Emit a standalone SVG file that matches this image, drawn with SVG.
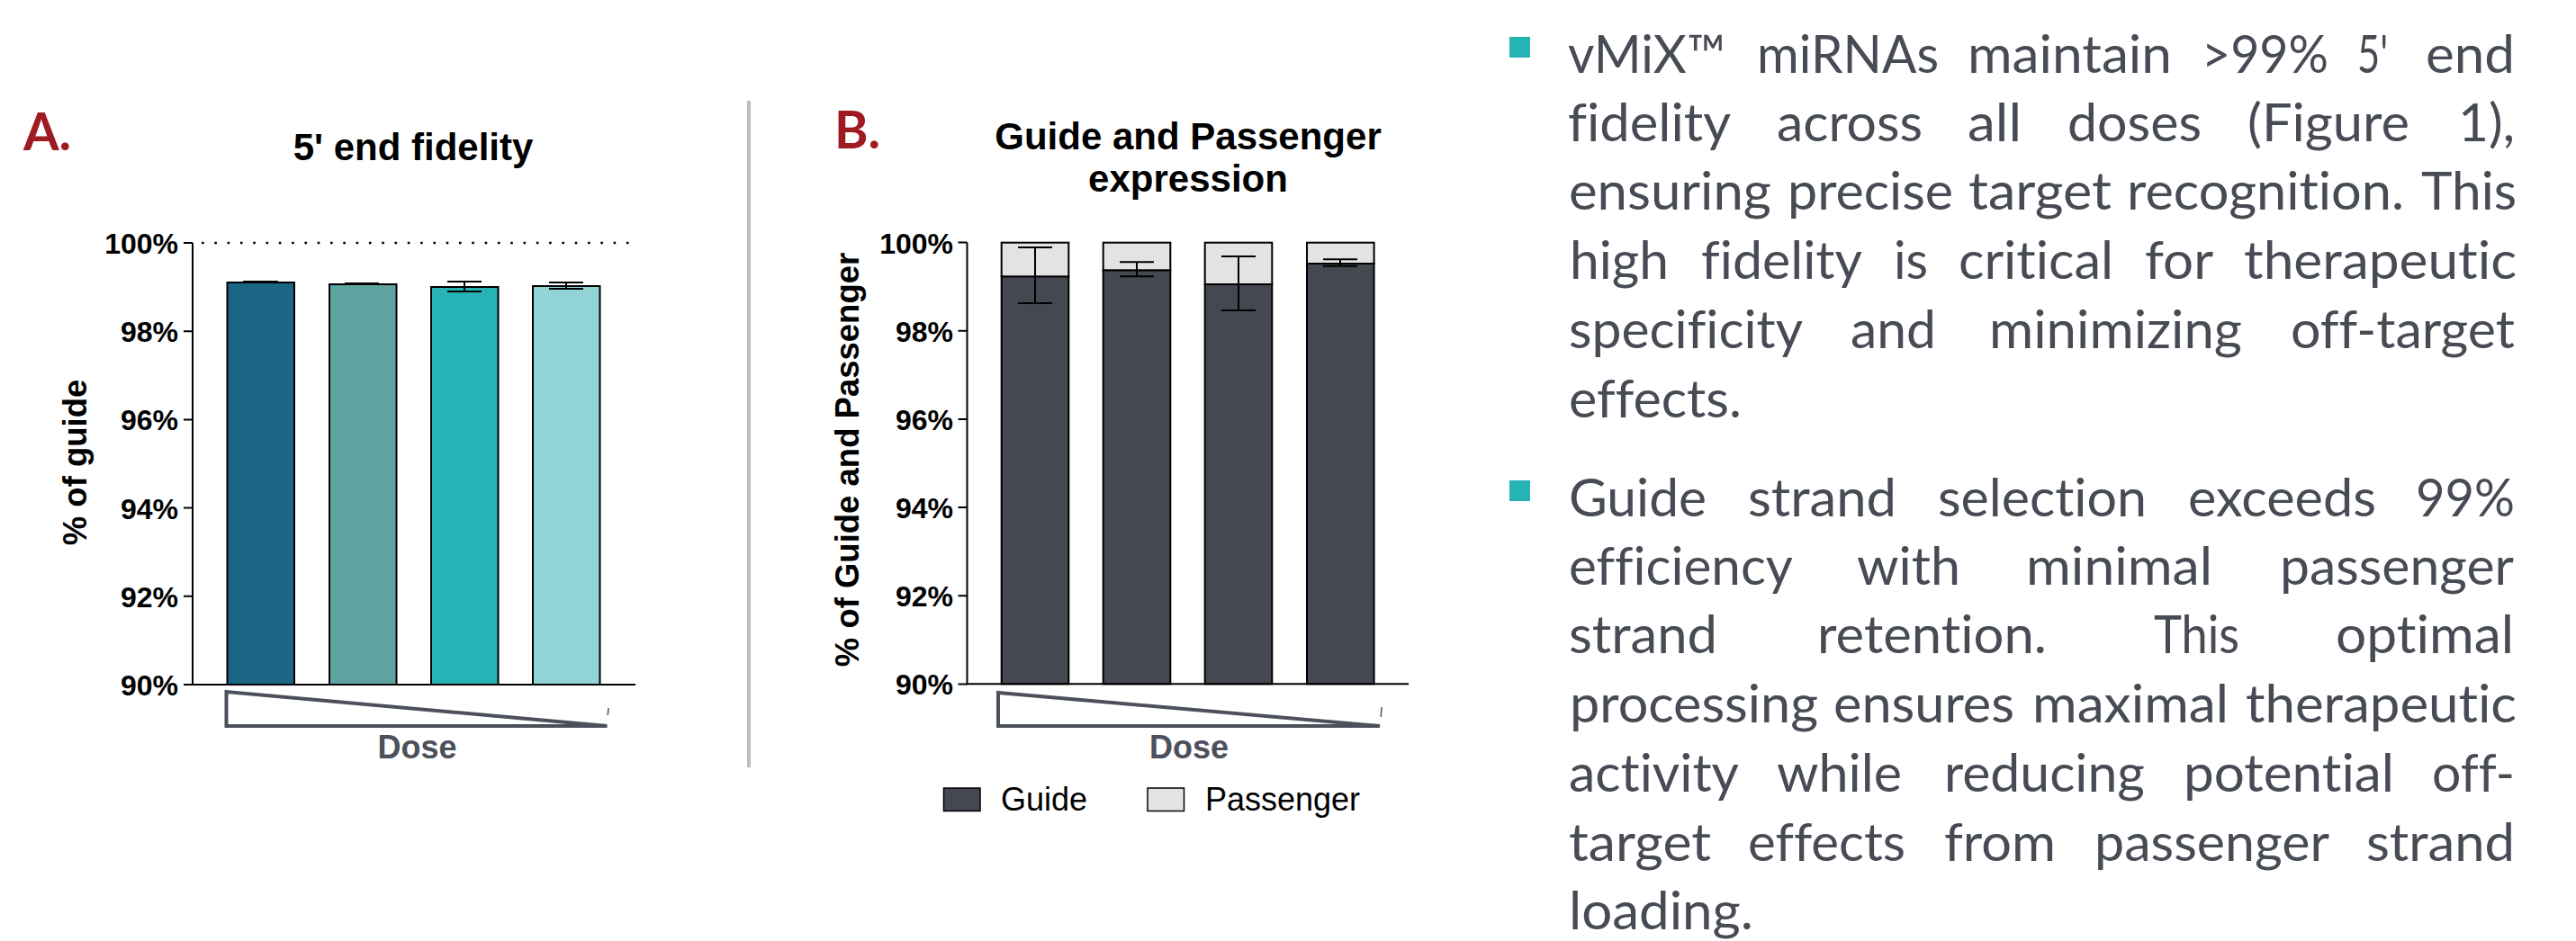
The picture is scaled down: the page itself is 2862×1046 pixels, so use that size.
<svg xmlns="http://www.w3.org/2000/svg" width="2862" height="1046" viewBox="0 0 2862 1046">
  <style>
    .panel-letter { font-family: Lato, "Liberation Sans", sans-serif; font-weight: 700; font-size: 57px; fill: #9e1b22; }
    .title { font-family: "Liberation Sans", Arial, sans-serif; font-weight: 700; font-size: 42px; fill: #000; text-anchor: middle; }
    .tick-label { font-family: "Liberation Sans", Arial, sans-serif; font-weight: 700; font-size: 32px; fill: #000; text-anchor: end; }
    .axis-title { font-family: "Liberation Sans", Arial, sans-serif; font-weight: 700; font-size: 36.5px; fill: #000; text-anchor: middle; }
    .dose { font-family: "Liberation Sans", Arial, sans-serif; font-weight: 700; font-size: 36px; fill: #4c505a; text-anchor: middle; }
    .legend { font-family: "Liberation Sans", Arial, sans-serif; font-size: 36px; fill: #000; }
    .axis { stroke: #000; stroke-width: 2; fill: none; }
    .bar { stroke: #000; stroke-width: 2; }
    .err { stroke: #000; stroke-width: 2; fill: none; }
    .wedge { fill: #fff; stroke: #4c505a; stroke-width: 4; }
    .body { font-family: Lato, "Open Sans", sans-serif; font-size: 59px; fill: #474b54; font-variant-ligatures: none; }
    .bullet { fill: #26b3b5; }
  </style>
  <defs>
    <path id="yticks" d="M-10 0H0M-10 98.2H0M-10 196.4H0M-10 294.6H0M-10 392.8H0M-10 491H0"/>
  </defs>

  <rect width="2862" height="1046" fill="#fff"/>

  <!-- Panel A: 5' end fidelity -->
  <g id="panel-a">
    <text class="panel-letter" x="26" y="167">A.</text>
    <text class="title" x="459" y="178">5' end fidelity</text>
    <text class="axis-title" transform="translate(96 514) rotate(-90)">% of guide</text>
    <line x1="224" y1="270" x2="702" y2="270" stroke="#000" stroke-width="2.6" stroke-dasharray="2.6 11.7"/>
    <g id="a-bars">
      <rect class="bar" x="252.5" y="314" width="74.5" height="447" fill="#1b6684"/>
      <rect class="bar" x="366" y="316" width="74.5" height="445" fill="#5fa3a1"/>
      <rect class="bar" x="479" y="319" width="74.5" height="442" fill="#27b3b5"/>
      <rect class="bar" x="592" y="318" width="74.5" height="443" fill="#92d4d6"/>
    </g>
    <g id="a-errors" class="err">
      <path d="M270 313H309"/>
      <path d="M383 315H421"/>
      <path d="M497 313H535M497 324H535M516 313V324"/>
      <path d="M610 314H648M610 321H648M629 314V321"/>
    </g>
    <g id="a-axes">
      <path class="axis" d="M214 270V761H706"/>
      <use href="#yticks" x="214" y="270" class="axis"/>
    </g>
    <g id="a-ticklabels">
      <text class="tick-label" x="198" y="282">100%</text>
      <text class="tick-label" x="198" y="380">98%</text>
      <text class="tick-label" x="198" y="478">96%</text>
      <text class="tick-label" x="198" y="577">94%</text>
      <text class="tick-label" x="198" y="675">92%</text>
      <text class="tick-label" x="198" y="773">90%</text>
    </g>
    <polygon class="wedge" points="251.5,769 251.5,807 674.5,807"/>
    <line x1="676" y1="787" x2="675.3" y2="795" stroke="#4c505a" stroke-width="1.5"/>
    <text class="dose" x="463.5" y="843">Dose</text>
  </g>

  <!-- Divider between panels -->
  <line id="divider" x1="832" y1="112" x2="832" y2="853" stroke="#bdbdbd" stroke-width="4"/>

  <!-- Panel B: guide and passenger expression -->
  <g id="panel-b">
    <text class="panel-letter" x="927" y="165">B.</text>
    <text class="title" x="1320" y="166">Guide and Passenger</text>
    <text class="title" x="1320" y="213">expression</text>
    <text class="axis-title" transform="translate(954 511) rotate(-90)">% of Guide and Passenger</text>
    <g id="b-bars">
      <rect class="bar" x="1112.7" y="307.3" width="74.6" height="453" fill="#444851"/>
      <rect class="bar" x="1112.7" y="269.7" width="74.6" height="37.6" fill="#e3e3e3"/>
      <rect class="bar" x="1225.7" y="300.3" width="74.6" height="460" fill="#444851"/>
      <rect class="bar" x="1225.7" y="269.7" width="74.6" height="30.6" fill="#e3e3e3"/>
      <rect class="bar" x="1338.7" y="316" width="74.6" height="444.3" fill="#444851"/>
      <rect class="bar" x="1338.7" y="269.7" width="74.6" height="46.3" fill="#e3e3e3"/>
      <rect class="bar" x="1452" y="293" width="74.6" height="467.3" fill="#444851"/>
      <rect class="bar" x="1452" y="269.7" width="74.6" height="23.3" fill="#e3e3e3"/>
    </g>
    <g id="b-errors" class="err">
      <path d="M1131 275H1169M1131 337H1169M1150 275V337"/>
      <path d="M1244 291.3H1282M1244 307.3H1282M1263 291.3V307.3"/>
      <path d="M1357 285H1395M1357 345H1395M1376 285V345"/>
      <path d="M1470 288.3H1508M1470 295.7H1508M1489 288.3V295.7"/>
    </g>
    <g id="b-axes">
      <path class="axis" d="M1074.5 269.5V760.3H1565"/>
      <use href="#yticks" x="1074.5" y="269.5" class="axis"/>
    </g>
    <g id="b-ticklabels">
      <text class="tick-label" x="1059" y="281.5">100%</text>
      <text class="tick-label" x="1059" y="379.5">98%</text>
      <text class="tick-label" x="1059" y="478">96%</text>
      <text class="tick-label" x="1059" y="576">94%</text>
      <text class="tick-label" x="1059" y="674">92%</text>
      <text class="tick-label" x="1059" y="772">90%</text>
    </g>
    <polygon class="wedge" points="1109,770 1109,807 1533,807"/>
    <line x1="1535" y1="786" x2="1534.2" y2="797" stroke="#4c505a" stroke-width="1.5"/>
    <text class="dose" x="1321" y="842.5">Dose</text>
    <g id="b-legend">
      <rect x="1048.5" y="876" width="40.5" height="25.5" fill="#444851" stroke="#000" stroke-width="1.5"/>
      <text class="legend" x="1112" y="901">Guide</text>
      <rect x="1275" y="876" width="40.5" height="25.5" fill="#e3e3e3" stroke="#000" stroke-width="1.5"/>
      <text class="legend" x="1339" y="901">Passenger</text>
    </g>
  </g>

  <!-- Bulleted notes, justified word by word -->
  <g id="notes" class="body">
    <rect class="bullet" x="1677" y="41" width="23" height="23"/>
    <g id="note-1">
      <text x="1742" y="81" textLength="175" lengthAdjust="spacingAndGlyphs">vMiX™</text>
      <text x="1952" y="81" textLength="202" lengthAdjust="spacingAndGlyphs">miRNAs</text>
      <text x="2186" y="81" textLength="227" lengthAdjust="spacingAndGlyphs">maintain</text>
      <text x="2446" y="81" textLength="141" lengthAdjust="spacingAndGlyphs">&gt;99%</text>
      <text x="2619" y="81" textLength="34" lengthAdjust="spacingAndGlyphs">5'</text>
      <text x="2695" y="81" textLength="99" lengthAdjust="spacingAndGlyphs">end</text>

      <text x="1742" y="157" textLength="181" lengthAdjust="spacingAndGlyphs">fidelity</text>
      <text x="1974" y="157" textLength="162" lengthAdjust="spacingAndGlyphs">across</text>
      <text x="2186" y="157" textLength="60" lengthAdjust="spacingAndGlyphs">all</text>
      <text x="2297" y="157" textLength="149" lengthAdjust="spacingAndGlyphs">doses</text>
      <text x="2497" y="157" textLength="180" lengthAdjust="spacingAndGlyphs">(Figure</text>
      <text x="2731" y="157" textLength="63" lengthAdjust="spacingAndGlyphs">1),</text>

      <text x="1743" y="233" textLength="225" lengthAdjust="spacingAndGlyphs">ensuring</text>
      <text x="1986" y="233" textLength="184" lengthAdjust="spacingAndGlyphs">precise</text>
      <text x="2187" y="233" textLength="159" lengthAdjust="spacingAndGlyphs">target</text>
      <text x="2363" y="233" textLength="308" lengthAdjust="spacingAndGlyphs">recognition.</text>
      <text x="2690" y="233" textLength="106" lengthAdjust="spacingAndGlyphs">This</text>

      <text x="1744" y="310" textLength="110" lengthAdjust="spacingAndGlyphs">high</text>
      <text x="1890" y="310" textLength="179" lengthAdjust="spacingAndGlyphs">fidelity</text>
      <text x="2104" y="310" textLength="38" lengthAdjust="spacingAndGlyphs">is</text>
      <text x="2176" y="310" textLength="172" lengthAdjust="spacingAndGlyphs">critical</text>
      <text x="2383" y="310" textLength="76" lengthAdjust="spacingAndGlyphs">for</text>
      <text x="2493" y="310" textLength="303" lengthAdjust="spacingAndGlyphs">therapeutic</text>

      <text x="1743" y="387" textLength="260" lengthAdjust="spacingAndGlyphs">specificity</text>
      <text x="2056" y="387" textLength="95" lengthAdjust="spacingAndGlyphs">and</text>
      <text x="2210" y="387" textLength="281" lengthAdjust="spacingAndGlyphs">minimizing</text>
      <text x="2545" y="387" textLength="249" lengthAdjust="spacingAndGlyphs">off-target</text>

      <text x="1743" y="464" textLength="192" lengthAdjust="spacingAndGlyphs">effects.</text>
    </g>

    <rect class="bullet" x="1677" y="534" width="23" height="23"/>
    <g id="note-2">
      <text x="1743" y="574" textLength="153" lengthAdjust="spacingAndGlyphs">Guide</text>
      <text x="1942" y="574" textLength="165" lengthAdjust="spacingAndGlyphs">strand</text>
      <text x="2153" y="574" textLength="232" lengthAdjust="spacingAndGlyphs">selection</text>
      <text x="2431" y="574" textLength="209" lengthAdjust="spacingAndGlyphs">exceeds</text>
      <text x="2684" y="574" textLength="110" lengthAdjust="spacingAndGlyphs">99%</text>

      <text x="1743" y="650" textLength="249" lengthAdjust="spacingAndGlyphs">efficiency</text>
      <text x="2063" y="650" textLength="115" lengthAdjust="spacingAndGlyphs">with</text>
      <text x="2251" y="650" textLength="207" lengthAdjust="spacingAndGlyphs">minimal</text>
      <text x="2533" y="650" textLength="260" lengthAdjust="spacingAndGlyphs">passenger</text>

      <text x="1743" y="726" textLength="165" lengthAdjust="spacingAndGlyphs">strand</text>
      <text x="2019" y="726" textLength="255" lengthAdjust="spacingAndGlyphs">retention.</text>
      <text x="2393" y="726" textLength="95" lengthAdjust="spacingAndGlyphs">This</text>
      <text x="2595" y="726" textLength="198" lengthAdjust="spacingAndGlyphs">optimal</text>

      <text x="1744" y="803" textLength="276" lengthAdjust="spacingAndGlyphs">processing</text>
      <text x="2037" y="803" textLength="201" lengthAdjust="spacingAndGlyphs">ensures</text>
      <text x="2258" y="803" textLength="218" lengthAdjust="spacingAndGlyphs">maximal</text>
      <text x="2495" y="803" textLength="301" lengthAdjust="spacingAndGlyphs">therapeutic</text>

      <text x="1743" y="880" textLength="189" lengthAdjust="spacingAndGlyphs">activity</text>
      <text x="1974" y="880" textLength="139" lengthAdjust="spacingAndGlyphs">while</text>
      <text x="2160" y="880" textLength="223" lengthAdjust="spacingAndGlyphs">reducing</text>
      <text x="2426" y="880" textLength="234" lengthAdjust="spacingAndGlyphs">potential</text>
      <text x="2702" y="880" textLength="92" lengthAdjust="spacingAndGlyphs">off-</text>

      <text x="1743" y="957" textLength="158" lengthAdjust="spacingAndGlyphs">target</text>
      <text x="1942" y="957" textLength="175" lengthAdjust="spacingAndGlyphs">effects</text>
      <text x="2160" y="957" textLength="124" lengthAdjust="spacingAndGlyphs">from</text>
      <text x="2327" y="957" textLength="261" lengthAdjust="spacingAndGlyphs">passenger</text>
      <text x="2629" y="957" textLength="165" lengthAdjust="spacingAndGlyphs">strand</text>

      <text x="1743" y="1033" textLength="205" lengthAdjust="spacingAndGlyphs">loading.</text>
    </g>
  </g>
</svg>
